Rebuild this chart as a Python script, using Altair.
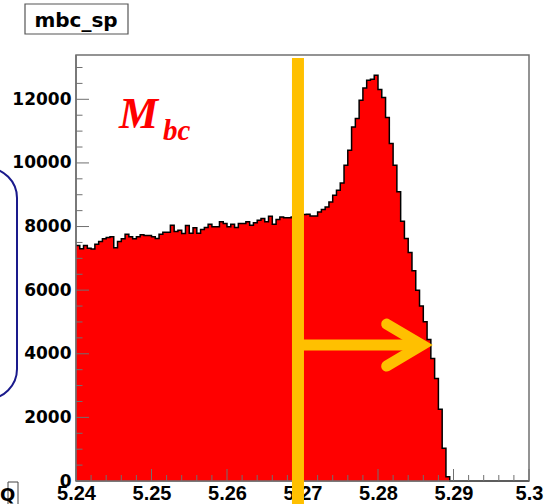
import altair as alt
import numpy as np
import pandas as pd

# ---------------- data ----------------
bin_start = 5.24
bin_width = 0.0005
counts = [
    7404, 7300, 7404, 7320, 7290, 7445, 7530, 7613, 7655, 7676,
    7330, 7530, 7613, 7760, 7676, 7613, 7676, 7740, 7718, 7718,
    7676, 7624, 7760, 7823, 7823, 8043, 7843, 7886, 7780, 8030,
    7790, 7960, 7790, 7907, 7970, 8074, 7990, 7990, 8148, 8096,
    7990, 8074, 7970, 8096, 8096, 8148, 8043, 8117, 8200, 8253,
    8148, 8326, 8074, 8222, 8300, 8280, 8280, 8300, 8350, 8330,
    8380, 8388, 8335, 8335, 8460, 8535, 8618, 8775, 8985, 9142,
    9372, 9928, 10400, 11130, 11395, 11970, 12357, 12600, 12630, 12755,
    12306, 12055, 11426, 10610, 9928, 9090, 8168, 7625, 7185, 6607,
    6000, 5498, 5005, 4452, 3855, 3226, 2253, 1027, 135, 0,
    0, 0, 0, 0, 0, 0, 0, 0, 0, 0,
    0, 0, 0, 0, 0, 0, 0, 0, 0, 0,
]

x_major = [5.24, 5.25, 5.26, 5.27, 5.28, 5.29, 5.30]
x_minor = [5.242, 5.244, 5.246, 5.248, 5.252, 5.254, 5.256, 5.258,
           5.262, 5.264, 5.266, 5.268, 5.272, 5.274, 5.276, 5.278,
           5.282, 5.284, 5.286, 5.288, 5.292, 5.294, 5.296, 5.298]
y_major = [0, 2000, 4000, 6000, 8000, 10000, 12000]
y_minor = [500, 1000, 1500, 2500, 3000, 3500, 4500, 5000, 5500, 6500, 7000,
           7500, 8500, 9000, 9500, 10500, 11000, 11500, 12500, 13000]

cut_x = [5.2694]
arrow_y = [4273]
arrow_end = [5.28583]
head_x = [5.28115, 5.28583, 5.28115]
head_y = [4932, 4273, 3613]

title_text = ["mbc_sp"]
main_label = ["M"]
sub_label = ["bc"]

# ---------------- layout ----------------
W, H = 453, 426
x_domain = [5.24, 5.30]
y_domain = [0, 13393]
RED = "#ff0000"
ORANGE = "#ffc000"
FRAME = "#707070"

xs = alt.Scale(domain=x_domain, nice=False, zero=False)
ys = alt.Scale(domain=y_domain, nice=False, zero=True)

edges = np.round(bin_start + bin_width * np.arange(len(counts) + 1), 5)
hist = pd.DataFrame({"x": edges, "y": counts + [counts[-1]]})

x_axis = alt.Axis(values=x_major, format=".2~f", labelFont="Liberation Sans",
                  labelFontSize=20, labelFontWeight="bold", labelColor="black",
                  ticks=False, domain=False, grid=False, labelPadding=2,
                  labelFlush=False, labelOverlap=False, title=None)
y_axis = alt.Axis(values=y_major, format="d", labelFont="DejaVu Sans",
                  labelFontSize=17, labelFontWeight="bold", labelColor="black",
                  ticks=False, domain=False, grid=False, labelPadding=5,
                  labelOverlap=False, title=None)

area = alt.Chart(hist).mark_area(interpolate="step-after", color=RED).encode(
    x=alt.X("x:Q", scale=xs, axis=x_axis),
    y=alt.Y("y:Q", scale=ys, axis=y_axis),
)
outline = alt.Chart(hist).mark_line(interpolate="step-after", color="black",
                                    strokeWidth=1.5).encode(
    x=alt.X("x:Q", scale=xs),
    y=alt.Y("y:Q", scale=ys),
)

def yticks(vals, length):
    return alt.Chart(pd.DataFrame({"y": vals})).mark_rule(
        color=FRAME, strokeWidth=1).encode(
        y=alt.Y("y:Q", scale=ys),
        x=alt.value(0), x2=alt.value(length))

def xticks(vals, length):
    return alt.Chart(pd.DataFrame({"x": vals})).mark_rule(
        color=FRAME, strokeWidth=1).encode(
        x=alt.X("x:Q", scale=xs),
        y=alt.value(H), y2=alt.value(H - length))

one = pd.DataFrame({"k": [0]})
left_frame = alt.Chart(one).mark_rule(color=FRAME, strokeWidth=1.5).encode(
    x=alt.value(0), y=alt.value(0), y2=alt.value(H))
bottom_frame = alt.Chart(one).mark_rule(color=FRAME, strokeWidth=1.5).encode(
    y=alt.value(H), x=alt.value(0), x2=alt.value(W))

cut = alt.Chart(pd.DataFrame({"x": cut_x})).mark_rule(
    color=ORANGE, strokeWidth=12).encode(
    x=alt.X("x:Q", scale=xs), y=alt.value(3), y2=alt.value(460))

shaft = alt.Chart(pd.DataFrame({"x": cut_x, "x1": arrow_end, "y": arrow_y})).mark_rule(
    color=ORANGE, strokeWidth=11).encode(
    x=alt.X("x:Q", scale=xs), x2="x1:Q",
    y=alt.Y("y:Q", scale=ys))

head = alt.Chart(pd.DataFrame({"x": head_x, "y": head_y, "o": [0, 1, 2]})).mark_line(
    color=ORANGE, strokeWidth=11, strokeJoin="miter", strokeCap="round").encode(
    x=alt.X("x:Q", scale=xs),
    y=alt.Y("y:Q", scale=ys),
    order="o:Q")

title_box = alt.Chart(one).mark_rect(fill="white", stroke="#555555",
                                     strokeWidth=1.2).encode(
    x=alt.value(-51), x2=alt.value(52), y=alt.value(-51), y2=alt.value(-21))
title = alt.Chart(pd.DataFrame({"t": title_text})).mark_text(
    font="DejaVu Sans", fontWeight="bold", fontSize=20, color="black",
    align="center", baseline="alphabetic").encode(
    text="t:N", x=alt.value(0), y=alt.value(-28))

m_text = alt.Chart(pd.DataFrame({"t": main_label})).mark_text(
    font="Liberation Serif", fontWeight="bold", fontStyle="italic", fontSize=44,
    color=RED, align="left", baseline="alphabetic").encode(
    text="t:N", x=alt.value(43), y=alt.value(73))
sub_text = alt.Chart(pd.DataFrame({"t": sub_label})).mark_text(
    font="Liberation Serif", fontWeight="bold", fontStyle="italic", fontSize=29,
    color=RED, align="left", baseline="alphabetic").encode(
    text="t:N", x=alt.value(87), y=alt.value(85))

blue_box = alt.Chart(one).mark_rect(fill=None, stroke="#1a1a8c", strokeWidth=2,
                                    cornerRadius=30).encode(
    x=alt.value(-160), x2=alt.value(-59), y=alt.value(113), y2=alt.value(344))

small_box = alt.Chart(one).mark_rect(fill=None, stroke="#444444", strokeWidth=1).encode(
    x=alt.value(-68), x2=alt.value(-58), y=alt.value(427), y2=alt.value(460))
small_q = alt.Chart(pd.DataFrame({"t": ["Q"]})).mark_text(
    font="DejaVu Sans", fontWeight="bold", fontSize=18, color="black",
    align="left", baseline="alphabetic").encode(
    text="t:N", x=alt.value(-76), y=alt.value(446))

chart = alt.layer(
    blue_box, small_box, small_q,
    area, outline,
    yticks(y_major, 13), yticks(y_minor, 6.5),
    xticks(x_major, 12), xticks(x_minor, 6),
    left_frame, bottom_frame,
    cut, shaft, head,
    title_box, title, m_text, sub_text,
).properties(
    width=W, height=H,
    padding={"left": 76, "top": 55, "right": 27, "bottom": 23},
    autosize=alt.AutoSizeParams(type="none"),
    background="white",
).configure_view(stroke=FRAME, strokeWidth=1.5)

chart.save("out.html", embed_options={"renderer": "svg", "actions": False})
